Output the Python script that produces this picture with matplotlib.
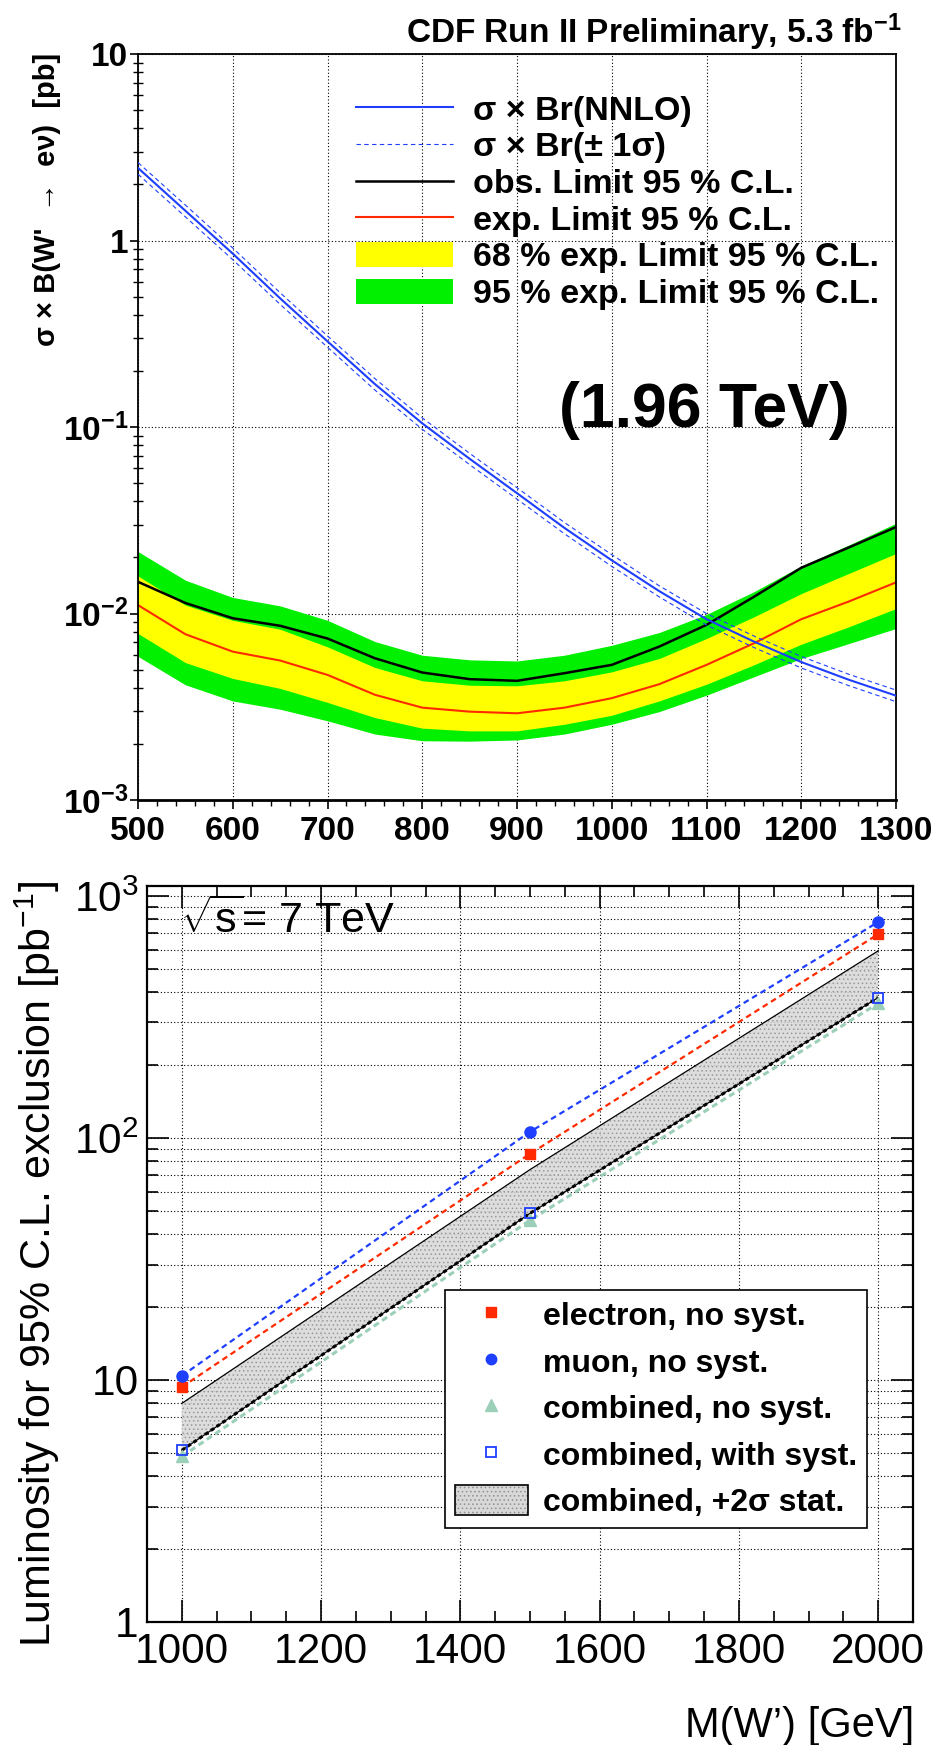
"""
W' -> e nu: CDF cross-section limits (top) and LHC 7 TeV exclusion luminosity (bottom)
"""

import numpy as np
import matplotlib
matplotlib.use("Agg")
import matplotlib.pyplot as plt
from matplotlib.lines import Line2D
from matplotlib.patches import Patch
from matplotlib.legend_handler import HandlerTuple
from matplotlib.ticker import FixedLocator, MultipleLocator, LogLocator, NullFormatter

plt.rcParams.update({
    "font.family": ["Liberation Sans", "DejaVu Sans"],
    "mathtext.fontset": "custom",
    "mathtext.rm": "Liberation Sans",
    "mathtext.it": "Liberation Sans:italic",
    "mathtext.bf": "Liberation Sans:bold",
    "mathtext.sf": "Liberation Sans",
    "axes.linewidth": 1.3,
    "hatch.linewidth": 0.6,
})

# ---- top panel: CDF limits (pb) vs M(W') [GeV]
mass_top = [500, 550, 600, 650, 700, 750, 800, 850, 900, 950, 1000,
            1050, 1100, 1150, 1200, 1250, 1300]
obs_limit = [0.0148, 0.0114, 0.00944, 0.0086, 0.00735, 0.00576, 0.00483, 0.00445, 0.00436,
             0.00479, 0.00531, 0.00665, 0.0087, 0.0123, 0.0176, 0.0226, 0.0291]
exp_limit = [0.0111, 0.00775, 0.00625, 0.0056, 0.00469, 0.00367, 0.00313, 0.00298, 0.00292,
             0.00313, 0.00352, 0.00418, 0.00531, 0.00693, 0.00933, 0.0116, 0.0147]
exp68_hi = [0.0159, 0.0111, 0.0092, 0.00824, 0.00663, 0.00514, 0.00436, 0.00413, 0.0041,
            0.00436, 0.00487, 0.00574, 0.00735, 0.0096, 0.0128, 0.0164, 0.021]
exp68_lo = [0.00782, 0.00546, 0.00449, 0.00397, 0.00334, 0.00277, 0.00243, 0.00235, 0.00235,
            0.00255, 0.00285, 0.0034, 0.00418, 0.00531, 0.00685, 0.00849, 0.01064]
exp95_hi = [0.0215, 0.0151, 0.0122, 0.011, 0.0092, 0.00708, 0.00598, 0.00565, 0.00557,
            0.00598, 0.00676, 0.00791, 0.0099, 0.0131, 0.018, 0.0233, 0.0305]
exp95_lo = [0.00589, 0.00415, 0.0034, 0.00307, 0.00266, 0.00226, 0.00208, 0.00207, 0.0021,
            0.00226, 0.00255, 0.00298, 0.00365, 0.00458, 0.00574, 0.0069, 0.00832]
xsec_nnlo = [2.45, 1.445, 0.851, 0.490, 0.288, 0.170, 0.1047, 0.0676, 0.0442,
             0.0288, 0.0193, 0.0132, 0.00933, 0.00708, 0.0055, 0.00442, 0.00363]
xsec_up = [2.62, 1.55, 0.912, 0.525, 0.308, 0.182, 0.112, 0.0723, 0.0473,
           0.0308, 0.0207, 0.0141, 0.0100, 0.00758, 0.00589, 0.00473, 0.00389]
xsec_down = [2.27, 1.34, 0.790, 0.455, 0.268, 0.158, 0.0973, 0.0629, 0.0411,
             0.0268, 0.0179, 0.0123, 0.00868, 0.00658, 0.00511, 0.00411, 0.00337]

top_xticks = [500, 600, 700, 800, 900, 1000, 1100, 1200, 1300]
top_yticks = [1e-3, 1e-2, 1e-1, 1, 10]
top_ylabels = [r"$\mathbf{10^{-3}}$", r"$\mathbf{10^{-2}}$", r"$\mathbf{10^{-1}}$", "1", "10"]
top_legend = ["σ × Br(NNLO)", "σ × Br(± 1σ)", "obs. Limit 95 % C.L.",
              "exp. Limit 95 % C.L.", "68 % exp. Limit 95 % C.L.", "95 % exp. Limit 95 % C.L."]

# ---- bottom panel: luminosity for 95% C.L. exclusion [pb^-1]
mass_lumi = [1000, 1500, 2000]
lumi_electron = [9.35, 86, 695]
lumi_muon = [10.4, 106, 780]
lumi_comb = [4.83, 45.7, 360]
lumi_comb_syst = [5.12, 48.8, 380]
lumi_comb_2sigma = [8.0, 74, 593]

bot_xticks = [1000, 1200, 1400, 1600, 1800, 2000]
bot_yticks = [1, 10, 100, 1000]
bot_ylabels = ["1", "10", r"$10^{2}$", r"$10^{3}$"]
bot_legend = ["electron, no syst.", "muon, no syst.", "combined, no syst.",
              "combined, with syst.", "combined, +2σ stat."]

BLUE = "#1f3fff"
RED = "#ff2a00"
YELLOW = "#ffff00"
GREEN = "#00f000"
TEAL = "#9ccfb8"
BAND = "#d8d8d8"
DOT = (0, (1, 2))

fig = plt.figure(figsize=(9.41, 17.45), dpi=100)

# ================= top panel =================
ax1 = fig.add_axes([0.1467, 0.5415, 0.8055, 0.4275])
ax1.set_axisbelow(True)
ax1.fill_between(mass_top, exp95_lo, exp95_hi, color=GREEN, lw=0, zorder=1)
ax1.fill_between(mass_top, exp68_lo, exp68_hi, color=YELLOW, lw=0, zorder=1.1)
ax1.plot(mass_top, exp_limit, color=RED, lw=1.5, zorder=2)
ax1.plot(mass_top, obs_limit, color="black", lw=1.8, zorder=2.1)
ax1.plot(mass_top, xsec_up, color=BLUE, lw=0.8, ls=(0, (4, 3)), zorder=3)
ax1.plot(mass_top, xsec_down, color=BLUE, lw=0.8, ls=(0, (4, 3)), zorder=3)
ax1.plot(mass_top, xsec_nnlo, color=BLUE, lw=1.5, zorder=3.1)

ax1.set_yscale("log")
ax1.set_xlim(500, 1300)
ax1.set_ylim(1e-3, 10)
ax1.set_xticks(top_xticks, [str(m) for m in top_xticks], fontweight="bold")
ax1.xaxis.set_minor_locator(MultipleLocator(20))
ax1.yaxis.set_major_locator(FixedLocator(top_yticks))
ax1.set_yticklabels(top_ylabels, fontweight="bold")
ax1.yaxis.set_minor_locator(LogLocator(base=10, subs=np.arange(2, 10), numticks=20))
ax1.yaxis.set_minor_formatter(NullFormatter())
ax1.tick_params(axis="x", which="major", direction="out", length=6.5, width=1.2,
                labelsize=24, pad=5)
ax1.tick_params(axis="x", which="minor", direction="out", length=4.3, width=1)
ax1.tick_params(axis="y", which="major", direction="out", length=6, width=1.2,
                labelsize=24, pad=1)
ax1.tick_params(axis="y", which="minor", direction="inout", length=7, width=1)
ax1.spines["bottom"].set_linewidth(2)
ax1.grid(True, which="major", color="black", ls=DOT, lw=0.8)

top_handles = [
    Line2D([], [], color=BLUE, lw=1.5),
    Line2D([], [], color=BLUE, lw=0.8, ls=(0, (4, 3))),
    Line2D([], [], color="black", lw=1.8),
    Line2D([], [], color=RED, lw=1.5),
    Patch(facecolor=YELLOW, lw=0),
    Patch(facecolor=GREEN, lw=0),
]
ax1.legend(top_handles, top_legend, loc="upper left", bbox_to_anchor=(0.2876, 0.945),
           frameon=False, borderpad=0, borderaxespad=0, handlelength=2.85,
           handleheight=0.76, handletextpad=0.6, labelspacing=0.155,
           prop=dict(weight="bold", size=24.5))

ax1.text(0.747, 0.5004, "(1.96 TeV)", transform=ax1.transAxes, ha="center",
         va="baseline", fontsize=45, fontweight="bold")
fig.text(0.958, 0.9754, r"CDF Run II Preliminary, 5.3 fb$^{\mathbf{-1}}$", ha="right",
         va="baseline", fontsize=24, fontweight="bold")
fig.text(0.050, 0.9696, "σ × B(W'  →  eν)  [pb]", rotation=90, ha="center", va="top",
         fontsize=21, fontweight="bold")

# ================= bottom panel =================
ax2 = fig.add_axes([0.1562, 0.0705, 0.8140, 0.4218])
ax2.set_axisbelow(True)
ax2.fill_between(mass_lumi, lumi_comb_syst, lumi_comb_2sigma, facecolor=BAND,
                 edgecolor="#909090", hatch="....", lw=0, alpha=0.85, zorder=1)
ax2.plot(mass_lumi, lumi_comb_2sigma, color="black", lw=0.9, zorder=2)
ax2.plot(mass_lumi, lumi_comb_syst, color="black", lw=0.9, zorder=2)
ax2.plot(mass_lumi, lumi_comb, color=TEAL, lw=2.2, ls=(0, (2, 1.3)), zorder=2.2)
ax2.plot(mass_lumi, lumi_comb_syst, color="black", lw=2.2, ls=(0, (1.3, 1)), zorder=2.3)
ax2.plot(mass_lumi, lumi_electron, color=RED, lw=1.6, ls=(0, (2.6, 1.8)), zorder=2.4)
ax2.plot(mass_lumi, lumi_muon, color=BLUE, lw=1.6, ls=(0, (2.6, 1.8)), zorder=2.4)

ax2.plot(mass_lumi, lumi_comb, ls="none", marker="^", ms=8, color=TEAL, zorder=3)
ax2.plot(mass_lumi, lumi_comb_syst, ls="none", marker="s", ms=7.5, mfc="none",
         mec=BLUE, mew=1.3, zorder=3.1)
ax2.plot(mass_lumi, lumi_electron, ls="none", marker="s", ms=7.5, color=RED, zorder=3.2)
ax2.plot(mass_lumi, lumi_muon, ls="none", marker="o", ms=8, color=BLUE, zorder=3.2)

ax2.set_yscale("log")
ax2.set_xlim(950, 2050)
ax2.set_ylim(1, 1100)
ax2.set_xticks(bot_xticks, [str(m) for m in bot_xticks])
ax2.xaxis.set_minor_locator(MultipleLocator(50))
ax2.yaxis.set_major_locator(FixedLocator(bot_yticks))
ax2.set_yticklabels(bot_ylabels)
ax2.yaxis.set_minor_locator(LogLocator(base=10, subs=np.arange(2, 10), numticks=20))
ax2.yaxis.set_minor_formatter(NullFormatter())
ax2.tick_params(which="both", direction="in", top=True, right=True, width=1.2)
ax2.tick_params(which="major", length=16, labelsize=30.5)
ax2.tick_params(which="minor", length=8)
ax2.tick_params(axis="x", which="major", pad=7)
ax2.tick_params(axis="y", which="major", pad=6)
for side in ax2.spines.values():
    side.set_linewidth(1.6)
ax2.grid(True, which="major", axis="x", color="black", ls=DOT, lw=0.8)
ax2.grid(True, which="both", axis="y", color="black", ls=DOT, lw=0.8)

bot_handles = [
    Line2D([], [], ls="none", marker="s", ms=7, color=RED),
    Line2D([], [], ls="none", marker="o", ms=7.5, color=BLUE),
    Line2D([], [], ls="none", marker="^", ms=8, color=TEAL),
    Line2D([], [], ls="none", marker="s", ms=7.5, mfc="none", mec=BLUE, mew=1.3),
    (Patch(facecolor=BAND, edgecolor="#909090", hatch="....", lw=0),
     Patch(facecolor="none", edgecolor="black", lw=1.2)),
]
leg = ax2.legend(bot_handles, bot_legend, handler_map={tuple: HandlerTuple(ndivide=1, pad=0)},
                 loc="upper left", bbox_to_anchor=(0.389, 0.451), borderaxespad=0,
                 borderpad=0.3, handlelength=2.3, handleheight=1.05, handletextpad=0.48,
                 labelspacing=0.43, fancybox=False, edgecolor="black", framealpha=1,
                 prop=dict(weight="bold", size=23))
leg.get_frame().set_linewidth(1.2)

ax2.text(0.043, 0.9366, r"$\sqrt{\mathrm{s}}$= 7 TeV", transform=ax2.transAxes,
         va="baseline", fontsize=31)
fig.text(0.9713, 0.0046, "M(W’) [GeV]", ha="right", va="baseline", fontsize=30)
fig.text(0.0399, 0.0562, r"Luminosity for 95% C.L. exclusion [pb$^{-1}$]", rotation=90,
         ha="center", va="bottom", fontsize=31)

fig.savefig("out.png", dpi=100)
plt.close(fig)
